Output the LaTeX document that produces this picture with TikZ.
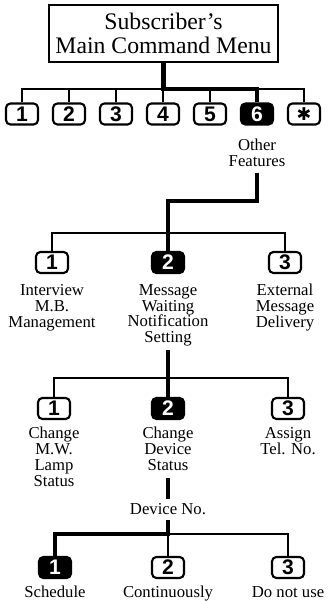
\documentclass[tikz,border=0pt]{standalone}
\usepackage{fontspec}
\setmainfont{Liberation Serif}
\setsansfont{Liberation Sans}
\newfontfamily\symfont{DejaVu Sans}

\begin{document}
\begin{tikzpicture}[
	keycap/.style={draw, line width=1.2pt, rounded corners=2.5pt, minimum width=0.64cm, minimum height=0.42cm, inner sep=0pt, font=\sffamily\bfseries\fontsize{12}{12}\selectfont},
	keycapon/.style={keycap, fill=black, text=white},
	lbl/.style={align=center, inner sep=0pt, font=\fontsize{9.5}{9}\selectfont},
	thinline/.style={line width=0.8pt},
	thickline/.style={line width=2.8pt}
	]
			%%%%% START %%%%%
			\useasboundingbox (0, 0) rectangle (6.58, 12.02);
			
			\node[draw, line width=0.9pt, minimum width=4.58cm, minimum height=1.14cm, align=center, font=\fontsize{13.5}{13.6}\selectfont] (menu) at (3.27, 11.35) {Subscriber's\\Main Command Menu};
			
			\coordinate (bus1) at (0, 10.24);
			\node[keycap] (k1) at (0.44, 9.74) {1};
			\node[keycap] (k2) at (1.38, 9.74) {2};
			\node[keycap] (k3) at (2.32, 9.74) {3};
			\node[keycap] (k4) at (3.26, 9.74) {4};
			\node[keycap] (k5) at (4.20, 9.74) {5};
			\node[keycapon] (k6) at (5.14, 9.74) {6};
			\node[keycap] (kstar) at (6.08, 9.74) {{\symfont\fontsize{10}{10}\selectfont ✱}};
			\node[lbl, anchor=north] (feat) at (5.14, 9.24) {Other\\Features};
			
			\coordinate (turn) at (3.36, 8.00);
			\coordinate (bus2) at (0, 7.36);
			\node[keycap] (m1) at (1.04, 6.77) {1};
			\node[keycapon] (m2) at (3.36, 6.77) {2};
			\node[keycap] (m3) at (5.70, 6.77) {3};
			\node[lbl, anchor=north] (intv) at (1.04, 6.34) {Interview\\M.B.\\Management};
			\node[lbl, anchor=north] (mwn) at (3.36, 6.34) {Message\\Waiting\\Notification\\Setting};
			\node[lbl, anchor=north] (ext) at (5.70, 6.34) {External\\Message\\Delivery};
			
			\coordinate (bus3) at (0, 4.46);
			\node[keycap] (c1) at (1.08, 3.85) {1};
			\node[keycapon] (c2) at (3.36, 3.85) {2};
			\node[keycap] (c3) at (5.76, 3.85) {3};
			\node[lbl, anchor=north] (lamp) at (1.08, 3.48) {Change\\M.W.\\Lamp\\Status};
			\node[lbl, anchor=north] (dev) at (3.36, 3.48) {Change\\Device\\Status};
			\node[lbl, anchor=north] (tel) at (5.76, 3.48) {Assign\\Tel. No.};
			\node[lbl] (devno) at (3.36, 1.84) {Device No.};
			
			\coordinate (bus4) at (0, 1.34);
			\node[keycapon] (d1) at (1.10, 0.67) {1};
			\node[keycap] (d2) at (3.36, 0.67) {2};
			\node[keycap] (d3) at (5.76, 0.67) {3};
			\node[lbl, anchor=base] (sched) at (1.10, 0.06) {Schedule};
			\node[lbl, anchor=base] (cont) at (3.36, 0.06) {Continuously};
			\node[lbl, anchor=base] (donot) at (5.76, 0.06) {Do not use};
			
			% thin buses
			\draw[thinline] (k1.north) |- (kstar.north |- bus1) -- (kstar.north);
			\draw[thinline] (k2.north) -- (k2.north |- bus1);
			\draw[thinline] (k3.north) -- (k3.north |- bus1);
			\draw[thinline] (k4.north) -- (k4.north |- bus1);
			\draw[thinline] (k5.north) -- (k5.north |- bus1);
			\draw[thinline] (m1.north) |- (m3.north |- bus2) -- (m3.north);
			\draw[thinline] (c1.north) |- (c3.north |- bus3) -- (c3.north);
			\draw[thinline] (d2.north) |- (d3.north |- bus4) -- (d3.north);
			
			% chosen path
			\draw[thickline] (menu.south) |- (k6.north |- bus1) -- (k6.north);
			\draw[thickline, shorten <=3pt] (feat.south) |- (turn) -- (m2.north);
			\draw[thickline, shorten <=2pt] (mwn.south) -- (c2.north);
			\draw[thickline, shorten <=4pt, shorten >=2pt] (dev.south) -- (devno.north);
			\draw[thickline, shorten <=3pt] (devno.south) |- (d1.north |- bus4) -- (d1.north);
			
			%%%%% END %%%%%
\end{tikzpicture}
\end{document}
